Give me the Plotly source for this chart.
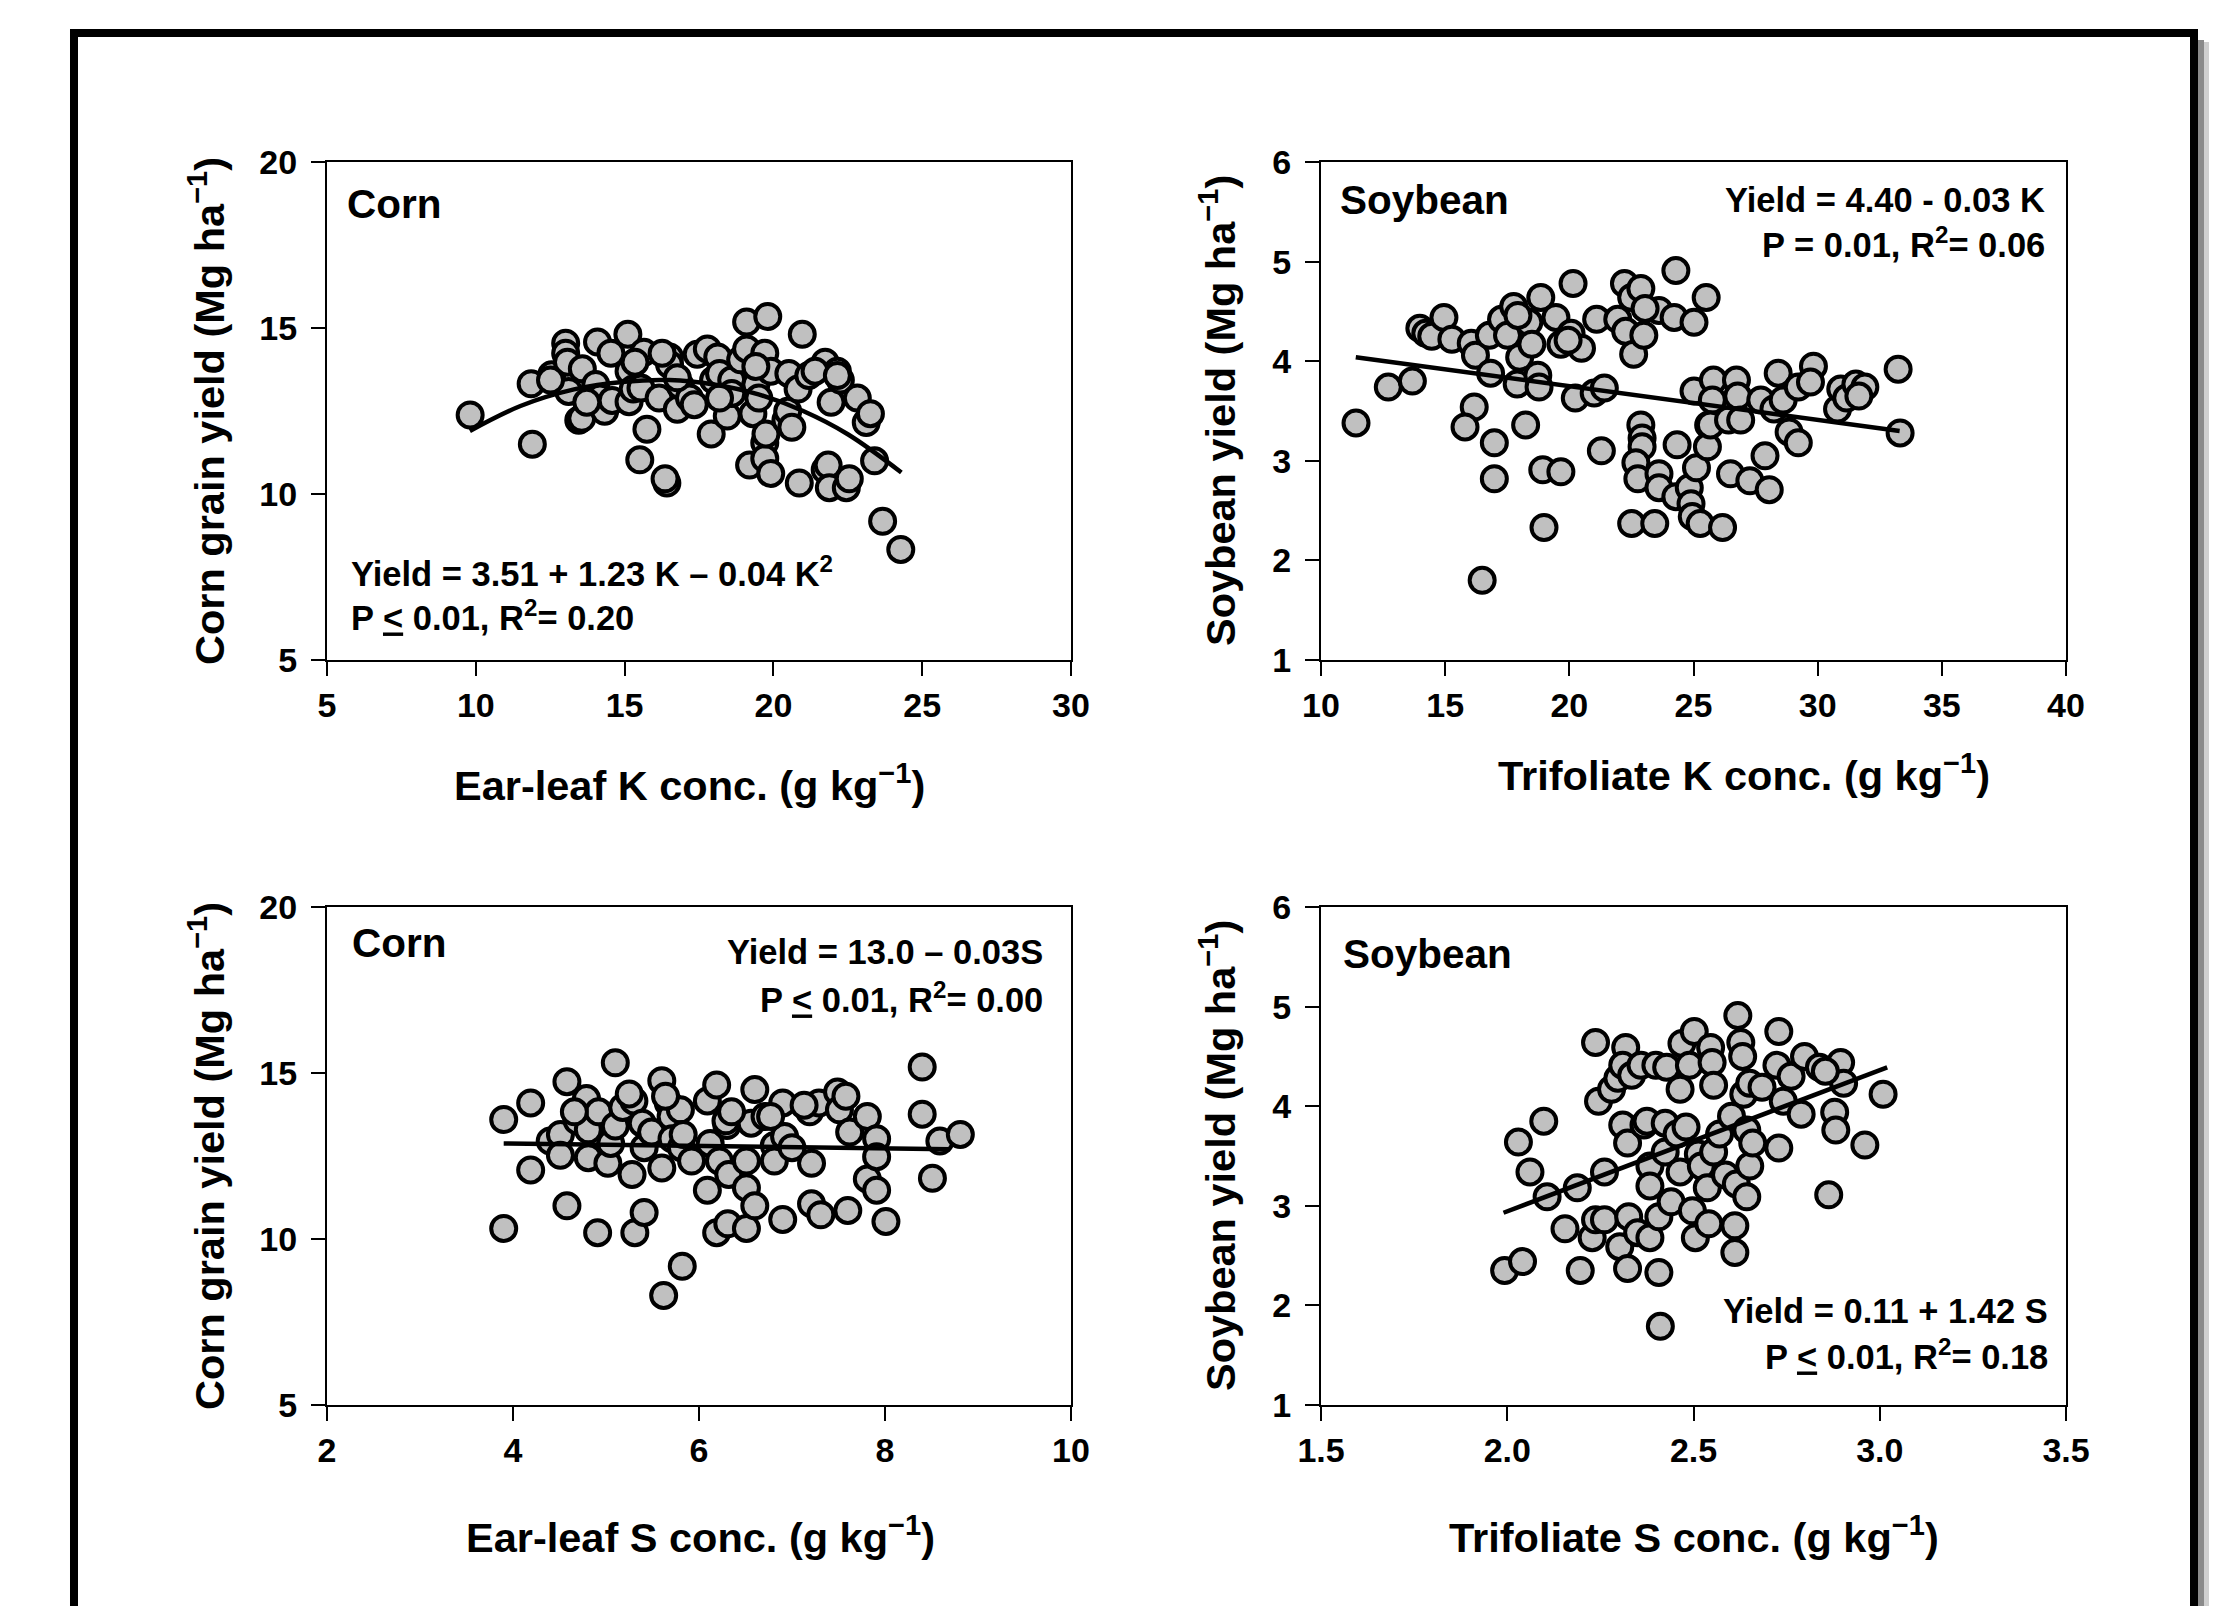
import plotly.graph_objects as go

W, H = 2239, 1606

# ---------------- data ----------------
# Panel 1: Corn, ear-leaf K vs grain yield
corn_k_x = [9.81, 11.86, 11.90, 12.55, 13.02, 13.02, 13.08, 13.12, 13.46, 13.56, 13.58, 14.09, 14.03, 14.17,
            14.33, 14.54, 14.58, 15.11, 15.15, 15.15, 15.29, 15.65, 15.55, 15.75, 15.51, 16.16, 16.42, 16.36,
            16.51, 16.51, 16.77, 16.87, 17.18, 17.34, 17.44, 17.78, 17.91, 17.99, 18.13, 18.19, 18.45, 18.60,
            18.90, 19.10, 19.10, 19.20, 19.31, 19.41, 19.51, 19.71, 19.71, 19.75, 19.81, 19.71, 19.91, 19.91,
            20.42, 20.48, 20.52, 20.83, 20.87, 20.97, 21.19, 21.74, 21.74, 21.84, 21.88, 21.94, 22.15, 22.25,
            22.45, 22.55, 22.82, 23.12, 23.26, 23.40, 23.67, 24.28, 21.40, 18.60, 16.77, 15.35, 12.51, 13.73,
            20.62, 16.26, 19.41, 18.19, 22.15]
corn_k_y = [12.38, 13.32, 11.50, 13.59, 14.54, 14.24, 13.97, 13.09, 12.22, 12.28, 13.77, 14.58, 13.30, 12.89,
            12.49, 14.24, 12.82, 14.81, 13.70, 12.78, 13.16, 14.27, 13.19, 11.95, 11.03, 12.89, 10.33, 10.46,
            14.13, 13.90, 12.55, 13.26, 12.89, 12.69, 14.21, 14.37, 11.81, 13.43, 14.13, 13.63, 12.35, 13.43,
            14.04, 15.18, 14.37, 10.87, 12.42, 13.30, 12.89, 11.54, 11.07, 11.81, 15.35, 14.24, 13.70, 10.62,
            12.22, 12.49, 13.63, 13.16, 10.33, 14.81, 13.57, 13.97, 10.73, 10.87, 10.19, 12.76, 13.70, 13.43,
            10.19, 10.46, 12.89, 12.15, 12.42, 11.00, 9.18, 8.33, 13.70, 13.03, 13.50, 13.97, 13.43, 12.76,
            12.01, 14.24, 13.84, 12.89, 13.57]
corn_k_fit_x = [9.8, 11.5, 13.3, 15.0, 16.5, 18.0, 19.5, 21.0, 22.5, 24.3]
corn_k_fit_y = [11.9, 12.65, 13.15, 13.38, 13.43, 13.3, 13.0, 12.5, 11.8, 10.65]

# Panel 2: Soybean, trifoliate K vs yield
soy_k_x = [11.41, 12.71, 13.68, 13.98, 14.22, 14.46, 14.95, 15.27, 16.05, 16.22, 16.17, 15.80, 16.49, 16.78,
           16.83, 16.98, 16.98, 17.27, 17.51, 17.76, 17.90, 18.00, 18.24, 18.37, 18.49, 18.73, 18.78, 18.85,
           18.93, 18.98, 19.46, 19.66, 19.66, 20.15, 20.07, 20.24, 20.49, 21.00, 21.10, 21.29, 21.95, 22.22,
           22.27, 22.51, 22.59, 22.88, 23.00, 22.88, 22.93, 22.93, 22.68, 22.76, 22.51, 23.61, 23.61, 23.61,
           23.44, 24.29, 24.22, 24.34, 24.29, 24.83, 24.90, 24.95, 25.02, 25.02, 25.12, 25.27, 25.51, 25.61,
           25.56, 25.80, 25.76, 25.68, 26.17, 26.41, 26.49, 26.73, 26.78, 26.90, 27.27, 27.71, 27.88, 28.05,
           28.24, 28.41, 28.61, 28.85, 29.22, 29.22, 29.83, 29.71, 30.80, 30.93, 31.17, 31.54, 31.90, 31.66,
           33.24, 33.32, 21.41, 19.95, 17.93, 23.05]
soy_k_y = [3.38, 3.74, 3.80, 4.33, 4.28, 4.25, 4.44, 4.22, 4.18, 4.06, 3.54, 3.34, 1.80, 4.26,
           3.88, 3.18, 2.82, 4.42, 4.26, 4.55, 3.77, 4.04, 3.36, 4.39, 4.17, 3.86, 3.74, 4.64,
           2.91, 2.33, 4.44, 4.17, 2.89, 4.78, 4.28, 3.63, 4.13, 3.68, 4.42, 3.10, 4.42, 4.78,
           4.30, 4.64, 4.07, 4.73, 4.26, 3.36, 3.23, 3.14, 2.98, 2.82, 2.37, 4.51, 2.87, 2.73,
           2.37, 4.91, 4.44, 3.16, 2.64, 2.73, 2.57, 2.44, 4.39, 3.70, 2.93, 2.37, 4.64, 3.36,
           3.14, 3.81, 3.61, 3.36, 2.33, 3.41, 2.87, 3.81, 3.65, 3.41, 2.80, 3.61, 3.05, 2.71,
           3.52, 3.88, 3.61, 3.29, 3.18, 3.74, 3.95, 3.79, 3.52, 3.72, 3.63, 3.77, 3.74, 3.65,
           3.92, 3.28, 3.73, 4.21, 4.46, 4.53]
soy_k_fit_x = [11.4, 33.3]
soy_k_fit_y = [4.04, 3.30]

# Panel 3: Corn, ear-leaf S vs grain yield
corn_s_x = [3.90, 3.90, 4.19, 4.19, 4.40, 4.51, 4.51, 4.58, 4.58, 4.69, 4.79, 4.81, 4.81, 4.91, 4.92, 5.02,
            5.05, 5.10, 5.10, 5.18, 5.28, 5.30, 5.31, 5.41, 5.41, 5.39, 5.49, 5.60, 5.60, 5.62, 5.67, 5.70,
            5.71, 5.80, 5.81, 5.82, 5.92, 6.09, 6.09, 6.12, 6.19, 6.19, 6.22, 6.30, 6.31, 6.32, 6.51, 6.51,
            6.51, 6.56, 6.60, 6.60, 6.71, 6.81, 6.81, 6.90, 6.90, 6.92, 7.00, 7.19, 7.21, 7.21, 7.29, 7.31,
            7.49, 7.51, 7.58, 7.60, 7.62, 7.81, 7.81, 7.91, 7.91, 7.91, 8.01, 8.40, 8.40, 8.51, 8.59, 8.81,
            6.29, 5.83, 4.66, 5.25, 5.64, 7.13, 6.35, 6.77]
corn_s_y = [13.60, 10.32, 14.10, 12.08, 12.95, 13.15, 12.52, 14.74, 11.00, 13.56, 14.23, 13.29, 12.45, 10.19,
            13.83, 12.28, 12.88, 15.31, 13.40, 13.96, 11.94, 14.16, 10.19, 10.80, 12.75, 13.49, 13.22, 14.77,
            12.14, 8.30, 14.10, 13.69, 13.02, 13.89, 12.75, 9.18, 12.35, 14.16, 11.47, 12.88, 14.64, 10.19,
            12.35, 13.42, 10.46, 11.94, 11.54, 10.32, 12.35, 13.49, 14.50, 11.00, 13.69, 12.82, 12.35, 14.10,
            10.59, 13.09, 12.75, 13.83, 12.28, 11.06, 14.10, 10.73, 14.43, 13.89, 14.30, 10.86, 13.22, 13.69,
            11.81, 13.02, 12.48, 11.47, 10.53, 15.18, 13.76, 11.83, 12.95, 13.15,
            13.56, 13.15, 13.83, 14.37, 14.30, 14.03, 13.83, 13.69]
corn_s_fit_x = [3.9, 8.7]
corn_s_fit_y = [12.88, 12.70]

# Panel 4: Soybean, trifoliate S vs yield
soy_s_x = [1.993, 2.041, 2.030, 2.098, 2.061, 2.107, 2.155, 2.188, 2.196, 2.237, 2.245, 2.228, 2.237, 2.261,
           2.261, 2.280, 2.297, 2.302, 2.310, 2.318, 2.310, 2.323, 2.326, 2.323, 2.334, 2.350, 2.359, 2.367,
           2.375, 2.383, 2.383, 2.383, 2.399, 2.407, 2.411, 2.407, 2.424, 2.424, 2.428, 2.440, 2.456, 2.464,
           2.464, 2.469, 2.480, 2.489, 2.497, 2.502, 2.505, 2.513, 2.521, 2.537, 2.541, 2.546, 2.550, 2.554,
           2.554, 2.570, 2.586, 2.602, 2.611, 2.611, 2.615, 2.619, 2.627, 2.632, 2.635, 2.643, 2.643, 2.651,
           2.651, 2.659, 2.684, 2.724, 2.729, 2.729, 2.741, 2.762, 2.789, 2.798, 2.838, 2.863, 2.879, 2.882,
           2.895, 2.903, 2.960, 3.009, 2.854]
soy_s_y = [2.35, 2.44, 3.64, 3.85, 3.34, 3.09, 2.77, 3.18, 2.35, 4.64, 4.05, 2.68, 2.86, 3.34,
           2.86, 4.17, 4.28, 2.59, 3.81, 4.59, 4.41, 3.63, 2.89, 2.37, 4.31, 2.73, 4.41, 3.81,
           3.85, 3.40, 3.20, 2.68, 4.41, 2.33, 1.79, 2.89, 3.83, 3.54, 4.39, 3.04, 3.72, 4.17,
           3.34, 4.63, 3.79, 4.41, 2.95, 4.75, 2.68, 3.52, 3.40, 3.18, 2.82, 4.59, 4.44, 4.21,
           3.54, 3.72, 3.31, 3.90, 2.80, 2.53, 3.22, 4.91, 4.64, 4.50, 4.12, 3.09, 3.76, 3.40,
           4.23, 3.63, 4.19, 4.41, 4.75, 3.58, 4.05, 4.30, 3.92, 4.50, 4.39, 3.11, 3.94, 3.76,
           4.44, 4.23, 3.61, 4.12, 4.35]
soy_s_fit_x = [1.99, 3.02]
soy_s_fit_y = [2.93, 4.39]

# ---------------- figure ----------------
FONT = "Liberation Sans"


def px_x(v):
    return v / W


def px_y(v):
    return 1 - v / H


fig = go.Figure()

panels = [
    (corn_k_x, corn_k_y, corn_k_fit_x, corn_k_fit_y, "spline", "x", "y"),
    (soy_k_x, soy_k_y, soy_k_fit_x, soy_k_fit_y, "linear", "x2", "y2"),
    (corn_s_x, corn_s_y, corn_s_fit_x, corn_s_fit_y, "linear", "x3", "y3"),
    (soy_s_x, soy_s_y, soy_s_fit_x, soy_s_fit_y, "linear", "x4", "y4"),
]
for px_, py_, fx, fy, shape, xa, ya in panels:
    fig.add_trace(go.Scatter(x=px_, y=py_, mode="markers", xaxis=xa, yaxis=ya, showlegend=False,
                             marker=dict(size=25, color="#c0c0c0", line=dict(color="black", width=4))))
    fig.add_trace(go.Scatter(x=fx, y=fy, mode="lines", xaxis=xa, yaxis=ya, showlegend=False,
                             line=dict(color="black", width=4.5, shape=shape, smoothing=1.0)))

colL = [px_x(327), px_x(1071)]
colR = [px_x(1321), px_x(2066)]
rowT = [px_y(660), px_y(162)]
rowB = [px_y(1405), px_y(907)]

tickfont = dict(family=FONT, size=34, color="black", weight="bold")
common = dict(showgrid=False, zeroline=False, showline=True, linecolor="black", linewidth=2,
              mirror=True, ticks="outside", ticklen=14, tickwidth=2, tickcolor="black",
              tickfont=tickfont, fixedrange=True, automargin=False)
yextra = dict(ticklabelstandoff=7)

fig.update_layout(
    width=W, height=H, autosize=False, margin=dict(l=0, r=0, t=0, b=0, pad=0),
    paper_bgcolor="white", plot_bgcolor="white",
    xaxis=dict(domain=colL, range=[5, 30], tickvals=[5, 10, 15, 20, 25, 30], anchor="y", **common),
    yaxis=dict(domain=rowT, range=[5, 20], tickvals=[5, 10, 15, 20], anchor="x", **common, **yextra),
    xaxis2=dict(domain=colR, range=[10, 40], tickvals=[10, 15, 20, 25, 30, 35, 40], anchor="y2", **common),
    yaxis2=dict(domain=rowT, range=[1, 6], tickvals=[1, 2, 3, 4, 5, 6], anchor="x2", **common, **yextra),
    xaxis3=dict(domain=colL, range=[2, 10], tickvals=[2, 4, 6, 8, 10], anchor="y3", **common),
    yaxis3=dict(domain=rowB, range=[5, 20], tickvals=[5, 10, 15, 20], anchor="x3", **common, **yextra),
    xaxis4=dict(domain=colR, range=[1.5, 3.5], tickvals=[1.5, 2.0, 2.5, 3.0, 3.5],
                ticktext=["1.5", "2.0", "2.5", "3.0", "3.5"], anchor="y4", **common),
    yaxis4=dict(domain=rowB, range=[1, 6], tickvals=[1, 2, 3, 4, 5, 6], anchor="x4", **common, **yextra),
)

ann = []


def add_text(text, x, y, size, xanchor="left", angle=0):
    ann.append(dict(text=text, x=px_x(x), y=px_y(y), xref="paper", yref="paper",
                    xanchor=xanchor, yanchor="middle", showarrow=False, textangle=angle,
                    font=dict(family=FONT, size=size, color="black", weight="bold")))


TITLE = 41.5
EQ = 34.5
LBL = 40.5
sup_m1 = "<sup>\u22121</sup>"
# axis titles
add_text("Corn grain yield (Mg ha" + sup_m1 + ")", 207, 411, TITLE, "center", -90)
add_text("Soybean yield (Mg ha" + sup_m1 + ")", 1218, 411, TITLE, "center", -90)
add_text("Corn grain yield (Mg ha" + sup_m1 + ")", 207, 1156, TITLE, "center", -90)
add_text("Soybean yield (Mg ha" + sup_m1 + ")", 1218, 1156, TITLE, "center", -90)
add_text("Ear-leaf K conc. (g kg" + sup_m1 + ")", 689, 783, TITLE, "center")
add_text("Trifoliate K conc. (g kg" + sup_m1 + ")", 1744, 773, TITLE, "center")
add_text("Ear-leaf S conc. (g kg" + sup_m1 + ")", 700, 1535, TITLE, "center")
add_text("Trifoliate S conc. (g kg" + sup_m1 + ")", 1694, 1535, TITLE, "center")
# panel labels
add_text("Corn", 345, 204, LBL)
add_text("Soybean", 1338, 200, LBL)
add_text("Corn", 350, 943, LBL)
add_text("Soybean", 1341, 954, LBL)
# equations
add_text("Yield = 3.51 + 1.23 K \u2013 0.04 K<sup>2</sup>", 349, 571, EQ)
add_text("P <u>&lt;</u> 0.01, R<sup>2</sup>= 0.20", 349, 615, EQ)
add_text("Yield = 4.40 - 0.03 K", 2047, 200, EQ, "right")
add_text("P = 0.01, R<sup>2</sup>= 0.06", 2047, 243, EQ, "right")
add_text("Yield = 13.0 \u2013 0.03S", 1045, 952, EQ, "right")
add_text("P <u>&lt;</u> 0.01, R<sup>2</sup>= 0.00", 1045, 997, EQ, "right")
add_text("Yield = 0.11 + 1.42 S", 2050, 1311, EQ, "right")
add_text("P <u>&lt;</u> 0.01, R<sup>2</sup>= 0.18", 2050, 1354, EQ, "right")
fig.update_layout(annotations=ann)

# outer frame (open at the bottom) with a soft shadow on the right
shapes = [
    dict(type="rect", xref="paper", yref="paper", x0=px_x(2198), x1=px_x(2204), y0=0, y1=px_y(40),
         fillcolor="#8a8a8a", line=dict(width=0), layer="below"),
    dict(type="rect", xref="paper", yref="paper", x0=px_x(2204), x1=px_x(2209), y0=0, y1=px_y(42),
         fillcolor="#cfcfcf", line=dict(width=0), layer="below"),
    dict(type="path", xref="paper", yref="paper", layer="above",
         path="M %f,0 L %f,%f L %f,%f L %f,0" % (px_x(74), px_x(74), px_y(33), px_x(2194), px_y(33), px_x(2194)),
         line=dict(color="black", width=8)),
]
fig.update_layout(shapes=shapes)

fig.write_html("out.html", config={"displayModeBar": False},
               post_script="document.body.style.margin='0';document.body.style.overflow='hidden';")
